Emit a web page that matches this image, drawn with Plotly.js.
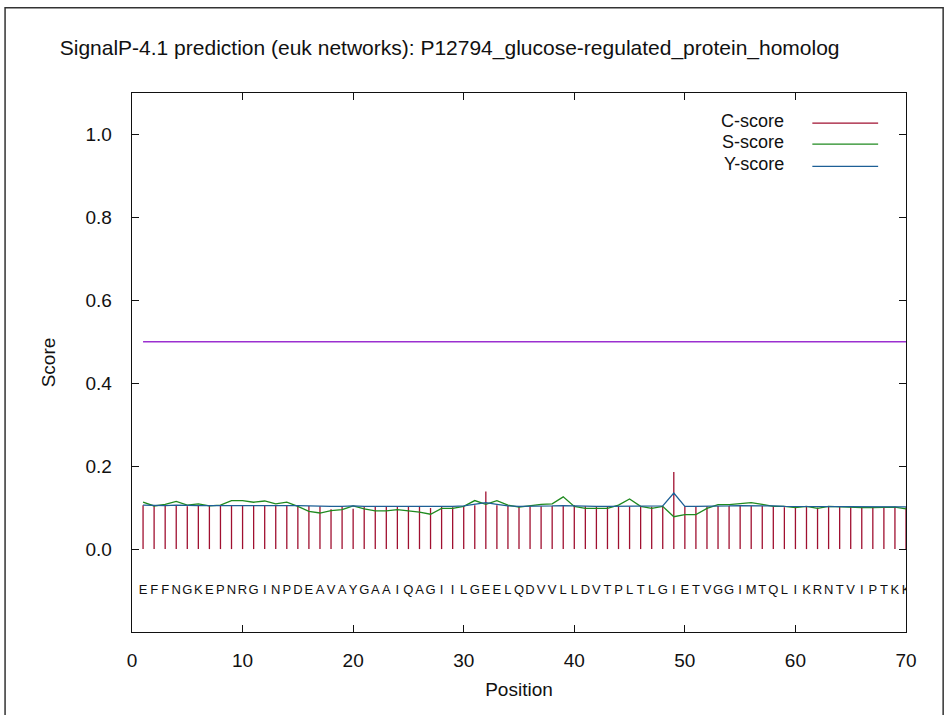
<!DOCTYPE html>
<html>
<head>
<meta charset="utf-8">
<script src="https://cdn.plot.ly/plotly-3.0.1.min.js"></script>
<style>html,body{margin:0;padding:0;background:#fff;}#chart{width:948px;height:715px;}</style>
</head>
<body>
<div id="chart"></div>
<script>
// ---- data ----
var chartTitle = "SignalP-4.1 prediction (euk networks): P12794_glucose-regulated_protein_homolog";
var positions = [1,2,3,4,5,6,7,8,9,10,11,12,13,14,15,16,17,18,19,20,21,22,23,24,25,26,27,28,29,30,31,32,33,34,35,36,37,38,39,40,41,42,43,44,45,46,47,48,49,50,51,52,53,54,55,56,57,58,59,60,61,62,63,64,65,66,67,68,69,70];
var sequence = ["E","F","F","N","G","K","E","P","N","R","G","I","N","P","D","E","A","V","A","Y","G","A","A","I","Q","A","G","I","I","L","G","E","E","L","Q","D","V","V","L","L","D","V","T","P","L","T","L","G","I","E","T","V","G","G","I","M","T","Q","L","I","K","R","N","T","V","I","P","T","K","K"];
var cScore = [0.106,0.104,0.105,0.105,0.103,0.104,0.104,0.105,0.105,0.104,0.105,0.104,0.104,0.105,0.105,0.104,0.103,0.096,0.103,0.097,0.103,0.103,0.103,0.103,0.103,0.104,0.099,0.102,0.101,0.103,0.106,0.139,0.106,0.104,0.103,0.103,0.103,0.104,0.104,0.106,0.103,0.103,0.103,0.103,0.103,0.103,0.102,0.103,0.186,0.103,0.103,0.103,0.104,0.104,0.105,0.104,0.104,0.103,0.101,0.102,0.103,0.100,0.104,0.102,0.102,0.101,0.101,0.101,0.102,0.101];
var sScore = [0.113,0.104,0.108,0.115,0.106,0.109,0.104,0.106,0.117,0.117,0.113,0.116,0.109,0.113,0.103,0.091,0.087,0.093,0.095,0.104,0.097,0.092,0.092,0.095,0.092,0.089,0.084,0.098,0.098,0.103,0.117,0.108,0.117,0.106,0.101,0.105,0.108,0.109,0.126,0.103,0.098,0.098,0.098,0.106,0.121,0.103,0.098,0.103,0.078,0.083,0.083,0.098,0.107,0.107,0.109,0.112,0.108,0.103,0.103,0.100,0.103,0.098,0.103,0.102,0.100,0.100,0.100,0.100,0.101,0.097];
var yScore = [0.106,0.105,0.105,0.106,0.105,0.105,0.105,0.105,0.106,0.106,0.106,0.106,0.105,0.105,0.105,0.104,0.103,0.103,0.103,0.104,0.103,0.103,0.103,0.103,0.103,0.103,0.102,0.103,0.103,0.104,0.108,0.112,0.108,0.104,0.103,0.103,0.104,0.104,0.105,0.104,0.103,0.103,0.103,0.103,0.104,0.103,0.103,0.104,0.135,0.103,0.103,0.103,0.104,0.104,0.105,0.105,0.105,0.104,0.103,0.103,0.103,0.102,0.103,0.103,0.102,0.102,0.102,0.102,0.102,0.102];
var thresholdX = [1, 70];
var thresholdY = [0.5, 0.5];
var seqLevel = -0.1;
var legendNames = ["C-score", "S-score", "Y-score"];
var xTicks = [0,10,20,30,40,50,60,70];
var yTicks = [0,0.2,0.4,0.6,0.8,1.0];

// ---- styles ----
var colC = "#a01030", colS = "#1f8a1f", colY = "#1d5f96", colT = "#9b30d0";
var FONT = "Liberation Sans, Arial, sans-serif";

// C-score impulses built from data
var cx = [], cy = [];
for (var i = 0; i < positions.length; i++) {
  cx.push(positions[i], positions[i], null);
  cy.push(0, cScore[i], null);
}
var seqY = positions.map(function(){ return seqLevel; });

var traces = [
  {x: thresholdX, y: thresholdY, mode: "lines", line: {color: colT, width: 1.3}, hoverinfo: "skip"},
  {x: cx, y: cy, mode: "lines", line: {color: colC, width: 1.3}, name: legendNames[0]},
  {x: positions, y: sScore, mode: "lines", line: {color: colS, width: 1.3}, name: legendNames[1]},
  {x: positions, y: yScore, mode: "lines", line: {color: colY, width: 1.3}, name: legendNames[2]},
  {x: positions, y: seqY, mode: "text", text: sequence, textposition: "middle center",
   textfont: {family: FONT, size: 13, color: "#111"}, hoverinfo: "skip"}
];

// gnuplot-style legend (text then line sample)
var legTextX = 0.845, legLineX0 = 0.879, legLineX1 = 0.964;
var legYs = [0.948, 0.909, 0.868];
var legCols = [colC, colS, colY];
var annotations = [], shapes = [];
for (var k = 0; k < legendNames.length; k++) {
  annotations.push({xref: "paper", yref: "paper", x: legTextX, y: legYs[k], xanchor: "right", yanchor: "middle",
    text: legendNames[k], showarrow: false, font: {family: FONT, size: 18, color: "#111"}});
  shapes.push({type: "line", xref: "paper", yref: "paper", x0: legLineX0, x1: legLineX1, y0: legYs[k] - 0.004, y1: legYs[k] - 0.004,
    line: {color: legCols[k], width: 1.3}});
}
// outer image frame
shapes.push({type: "rect", xref: "paper", yref: "paper", x0: -0.164, x1: 1.048, y0: -0.2, y1: 1.158,
  line: {color: "#333", width: 1.5}, layer: "below"});

var layout = {
  width: 948, height: 715,
  margin: {l: 132, r: 42, t: 93, b: 83},
  paper_bgcolor: "#fff", plot_bgcolor: "#fff",
  showlegend: false,
  font: {family: FONT, color: "#111"},
  title: {text: chartTitle, xref: "container", yref: "container", x: 0.063, xanchor: "left",
          y: 0.934, yanchor: "middle", font: {family: FONT, size: 21, color: "#111"}},
  xaxis: {range: [0, 70], tickvals: xTicks, ticktext: xTicks.map(String), ticks: "inside", ticklen: 7,
          mirror: "allticks", showline: true, linecolor: "#111", linewidth: 1.3, tickcolor: "#111",
          showgrid: false, zeroline: false, tickfont: {size: 19}, ticklabelstandoff: 11,
          title: {text: "Position", font: {size: 19}, standoff: 12}},
  yaxis: {range: [-0.2, 1.1], tickvals: yTicks, ticktext: yTicks.map(function(v){return v.toFixed(1);}),
          ticks: "inside", ticklen: 7, mirror: "allticks", showline: true, linecolor: "#111", linewidth: 1.3,
          tickcolor: "#111", showgrid: false, zeroline: false, tickfont: {size: 19}, ticklabelstandoff: 15,
          title: {text: "Score", font: {size: 19}, standoff: 24}},
  annotations: annotations,
  shapes: shapes
};

Plotly.newPlot("chart", traces, layout, {displayModeBar: false, staticPlot: true});
</script>
</body>
</html>
